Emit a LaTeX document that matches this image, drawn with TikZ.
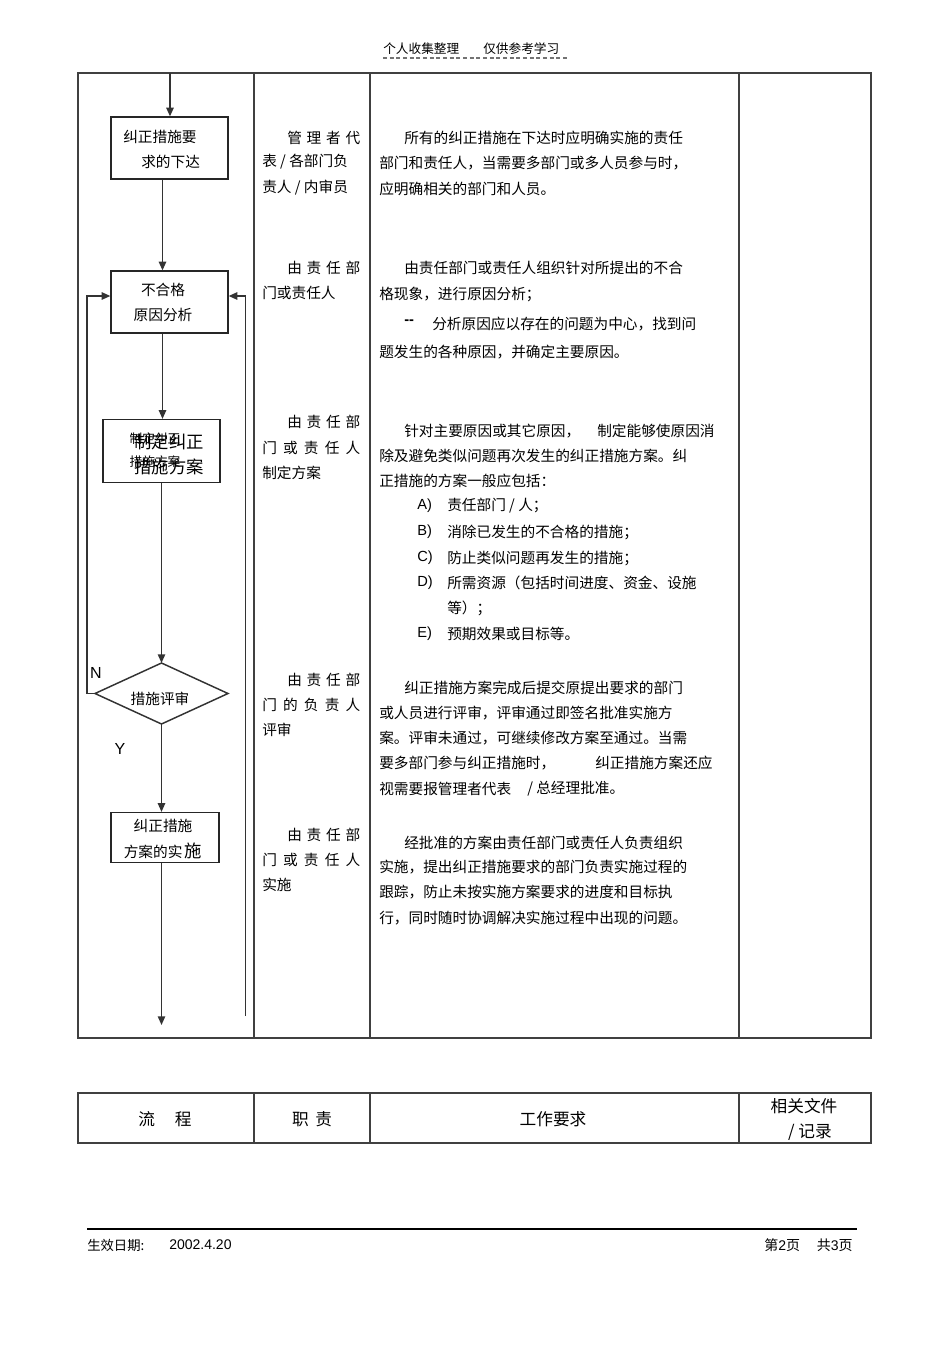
\documentclass[tikz,border=0pt]{standalone}
\usepackage{fontspec}
\setmainfont{Noto Sans CJK SC}
\newfontfamily\latf{Liberation Sans}
\usetikzlibrary{arrows.meta}
\newcommand\spr[2]{\hbox to #1{#2}}
\tikzset{
  frame/.style={line width=1pt, draw=black!75},
  box/.style={draw=black!85, line width=0.9pt, inner sep=0, minimum width=#1},
  conn/.style={line width=1.1pt, draw=black!80},
  arr/.style={conn, -{Triangle[length=6.5pt,width=5.5pt]}},
  txt/.style={font=\fontsize{11}{13}\selectfont, anchor=west, inner sep=0},
  ctxt/.style={font=\fontsize{11}{13}\selectfont, inner sep=0},
  htxt/.style={font=\fontsize{12.5}{15}\selectfont, inner sep=0},
  ftxt/.style={font=\fontsize{10}{12}\selectfont, inner sep=0},
}
\begin{document}
\begin{tikzpicture}[x=0.75pt,y=-0.75pt]
\useasboundingbox (0,0) rectangle (950,1345);
% header
\node[ftxt, font=\fontsize{9.5}{11}\selectfont, anchor=west] (hd1) at (383,49) {个人收集整理};
\node[ftxt, font=\fontsize{9.5}{11}\selectfont, anchor=west] (hd2) at (483,49) {仅供参考学习};
\draw[dash pattern=on 3pt off 2pt, black!55, line width=0.9pt] (383,58) -- (567,58);
% main table
\draw[frame] (78,73) rectangle (871,1038);
\draw[frame] (254,73) -- (254,1038);
\draw[frame] (370,73) -- (370,1038);
\draw[frame] (739,73) -- (739,1038);
% flow boxes
\node[box=87.75pt, minimum height=46.5pt] (b1) at (169.5,148) {};
\node[ctxt, anchor=west] (b1t1) at (123,137) {纠正措施要};
\node[ctxt, anchor=west] (b1t2) at (141,162) {求的下达};
\node[box=87.75pt, minimum height=46.5pt] (b2) at (169.5,302) {};
\node[ctxt] (b2t1) at (163,290) {不合格};
\node[ctxt] (b2t2) at (163,315) {原因分析};
\node[box=87.75pt, minimum height=47.25pt] (b3) at (161.5,451) {};
\node[ctxt, font=\fontsize{9.5}{11}\selectfont] (b3s1) at (155,439) {制定纠正};
\node[ctxt, font=\fontsize{9.5}{11}\selectfont] (b3s2) at (155,462) {措施方案};
\node[ctxt, font=\fontsize{13}{15}\selectfont] (b3l1) at (169,442) {制定纠正};
\node[ctxt, font=\fontsize{13}{15}\selectfont] (b3l2) at (169,467) {措施方案};
% diamond
\coordinate (dT) at (161.5,663);
\coordinate (dR) at (228,693.5);
\coordinate (dB) at (161.5,724);
\coordinate (dL) at (95,693.5);
\draw[conn] (dT) -- (dR) -- (dB) -- (dL) -- cycle;
\node[ctxt] (dtx) at (160,699) {措施评审};
\node[ctxt, font=\latf\fontsize{12}{14}\selectfont] (nN) at (96,673) {N};
\node[ctxt, font=\latf\fontsize{12}{14}\selectfont] (nY) at (120,749) {Y};
\node[box=81pt, minimum height=37.5pt] (b4) at (165,837.5) {};
\node[ctxt] (b4t1) at (163,826) {纠正措施};
\node[ctxt] (b4t2) at (163,851) {方案的实\,{\fontsize{13}{15}\selectfont 施}};
% connectors
\coordinate (top) at (170,73);
\coordinate (cx) at (162.5,0);
\coordinate (fin) at (161.5,1025);
\coordinate (lp) at (87,296);
\coordinate (rp) at (245.5,296);
\coordinate (rbot) at (245.5,1016);
\draw[arr] (top) -- (top |- b1.north);
\draw[arr] (b1.south -| cx) -- (b2.north -| cx);
\draw[arr] (b2.south -| cx) -- (b3.north -| cx);
\draw[arr] (b3.south -| dT) -- (dT);
\draw[arr] (dB) -- (b4.north -| dB);
\draw[arr] (b4.south -| dB) -- (fin);
\draw[arr] (dL) -| (lp) -- (lp -| b2.west);
\draw[arr] (rbot) -- (rp) -- (rp -| b2.east);
% responsibility column
\node[txt] (r11) at (287,138) {\spr{54.75pt}{管\hfill 理\hfill 者\hfill 代}};
\node[txt] (r12) at (262,162) {表 / 各部门负};
\node[txt] (r13) at (262,188) {责人 / 内审员};
\node[txt] (r21) at (287,268) {\spr{54.75pt}{由\hfill 责\hfill 任\hfill 部}};
\node[txt] (r22) at (262,293) {门或责任人};
\node[txt] (r31) at (287,422) {\spr{54.75pt}{由\hfill 责\hfill 任\hfill 部}};
\node[txt] (r32) at (262,448) {\spr{73.5pt}{门\hfill 或\hfill 责\hfill 任\hfill 人}};
\node[txt] (r33) at (262,473) {制定方案};
\node[txt] (r41) at (287,680) {\spr{54.75pt}{由\hfill 责\hfill 任\hfill 部}};
\node[txt] (r42) at (262,705) {\spr{73.5pt}{门\hfill 的\hfill 负\hfill 责\hfill 人}};
\node[txt] (r43) at (262,730) {评审};
\node[txt] (r51) at (287,835) {\spr{54.75pt}{由\hfill 责\hfill 任\hfill 部}};
\node[txt] (r52) at (262,860) {\spr{73.5pt}{门\hfill 或\hfill 责\hfill 任\hfill 人}};
\node[txt] (r53) at (262,885) {实施};
% work requirements
\node[txt] (w11) at (404,138) {所有的纠正措施在下达时应明确实施的责任};
\node[txt] (w12) at (379,163) {部门和责任人，当需要多部门或多人员参与时，};
\node[txt] (w13) at (379,189) {应明确相关的部门和人员。};
\node[txt] (w21) at (404,268) {由责任部门或责任人组织针对所提出的不合};
\node[txt] (w22) at (379,294) {格现象，进行原因分析；};
\node[txt, font=\latf\fontsize{11}{13}\selectfont\bfseries] (w23a) at (404,322) {-{}-};
\node[txt] (w23) at (432,324) {分析原因应以存在的问题为中心，找到问};
\node[txt] (w24) at (379,352) {题发生的各种原因，并确定主要原因。};
\node[txt] (w31) at (404,431) {针对主要原因或其它原因，};
\node[txt] (w31b) at (597,431) {制定能够使原因消};
\node[txt] (w32) at (379,456) {除及避免类似问题再次发生的纠正措施方案。纠};
\node[txt] (w33) at (379,481) {正措施的方案一般应包括：};
\node[txt, font=\latf\fontsize{11}{13}\selectfont] (la) at (417,506) {A)};
\node[txt] (ia) at (447,506) {责任部门 / 人；};
\node[txt, font=\latf\fontsize{11}{13}\selectfont] (lb) at (417,532) {B)};
\node[txt] (ib) at (447,532) {消除已发生的不合格的措施；};
\node[txt, font=\latf\fontsize{11}{13}\selectfont] (lc) at (417,558) {C)};
\node[txt] (ic) at (447,558) {防止类似问题再发生的措施；};
\node[txt, font=\latf\fontsize{11}{13}\selectfont] (ld) at (417,583) {D)};
\node[txt] (id) at (447,583) {所需资源（包括时间进度、资金、设施};
\node[txt] (id2) at (447,608) {等）；};
\node[txt, font=\latf\fontsize{11}{13}\selectfont] (le) at (417,634) {E)};
\node[txt] (ie) at (447,634) {预期效果或目标等。};
\node[txt] (w41) at (404,688) {纠正措施方案完成后提交原提出要求的部门};
\node[txt] (w42) at (379,713) {或人员进行评审，评审通过即签名批准实施方};
\node[txt] (w43) at (379,738) {案。评审未通过，可继续修改方案至通过。当需};
\node[txt] (w44) at (379,763) {要多部门参与纠正措施时，};
\node[txt] (w44b) at (595,763) {纠正措施方案还应};
\node[txt] (w45) at (379,789) {视需要报管理者代表};
\node[txt] (w45b) at (527,789) {/ 总经理批准。};
\node[txt] (w51) at (404,843) {经批准的方案由责任部门或责任人负责组织};
\node[txt] (w52) at (379,867) {实施，提出纠正措施要求的部门负责实施过程的};
\node[txt] (w53) at (379,892) {跟踪，防止未按实施方案要求的进度和目标执};
\node[txt] (w54) at (379,918) {行，同时随时协调解决实施过程中出现的问题。};
% second table (header row)
\draw[frame] (78,1093) rectangle (871,1143);
\draw[frame] (254,1093) -- (254,1143);
\draw[frame] (370,1093) -- (370,1143);
\draw[frame] (739,1093) -- (739,1143);
\node[htxt] (h1) at (165,1119) {流\hspace{1.2em}程};
\node[htxt] (h2) at (312,1119) {职\hspace{0.4em}责};
\node[htxt] (h3) at (553,1119) {工作要求};
\node[htxt] (h4a) at (804,1106) {相关文件};
\node[htxt] (h4b) at (810,1132) {/ 记录};
% footer
\draw[line width=1.8pt] (87,1229) -- (857,1229);
\node[ftxt, anchor=west] (f1) at (87,1245) {生效日期:};
\node[ftxt, anchor=west, font=\latf\fontsize{10.5}{12}\selectfont] (f2) at (169,1245) {2002.4.20};
\node[ftxt, anchor=east, font=\fontsize{10.5}{12}\selectfont] (f3) at (853,1245) {第{\latf 2}页\hspace{1.2em}共{\latf 3}页};
\end{tikzpicture}
\end{document}
